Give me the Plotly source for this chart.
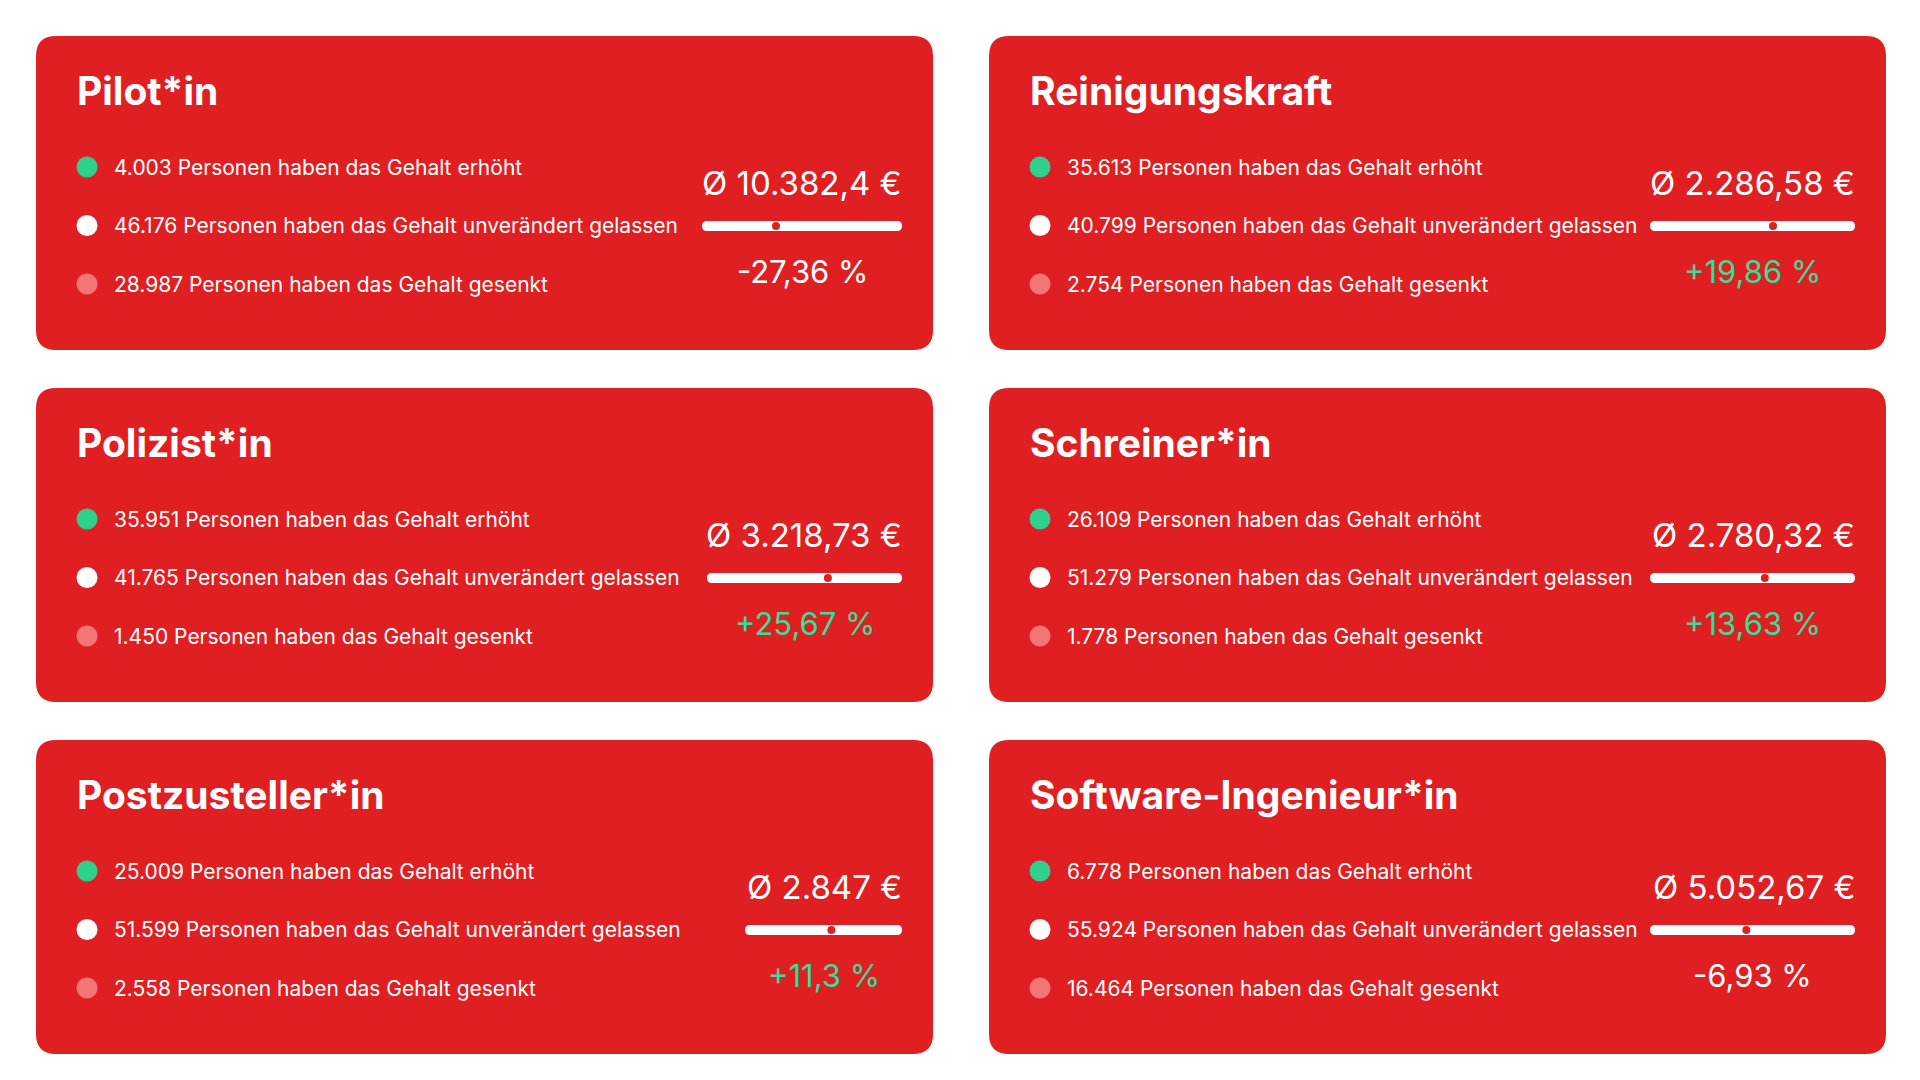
import plotly.graph_objects as go

jobs = ["Pilot*in", "Reinigungskraft", "Polizist*in", "Schreiner*in", "Postzusteller*in", "Software-Ingenieur*in"]
raised = ["4.003", "35.613", "35.951", "26.109", "25.009", "6.778"]
unchanged = ["46.176", "40.799", "41.765", "51.279", "51.599", "55.924"]
lowered = ["28.987", "2.754", "1.450", "1.778", "2.558", "16.464"]
avg_salary = ["10.382,4", "2.286,58", "3.218,73", "2.780,32", "2.847", "5.052,67"]
pct_change = [-27.36, 19.86, 25.67, 13.63, 11.3, -6.93]
pct_label = ["-27,36 %", "+19,86 %", "+25,67 %", "+13,63 %", "+11,3 %", "-6,93 %"]
slider_pos = [0.37, 0.60, 0.62, 0.56, 0.55, 0.47]

RED = "#E01F22"
GREEN = "#2FD08C"
PINK = "#F47575"
GREENTXT = "#3DDC97"
FONT = "Inter"

W, H = 1920, 1080
card_w, card_h = 897, 314
col_x = [28, 981]
row_y = [28, 380, 732]
bar_w = [200, 205, 195, 205, 157, 205]

fig = go.Figure()
shapes, ann = [], []
dx, dy, dc = [], [], []

def rr(x0, y0, x1, y1, r):
    return (f"M{x0+r},{y0} L{x1-r},{y0} Q{x1},{y0} {x1},{y0+r} L{x1},{y1-r} Q{x1},{y1} {x1-r},{y1} "
            f"L{x0+r},{y1} Q{x0},{y1} {x0},{y1-r} L{x0},{y0+r} Q{x0},{y0} {x0+r},{y0} Z")

for i, job in enumerate(jobs):
    cx = col_x[i % 2]
    cy = row_y[i // 2]
    shapes.append(dict(type="path", path=rr(cx, cy, cx + card_w, cy + card_h, 20),
                       xref="x", yref="y", fillcolor=RED, line=dict(width=0), layer="below"))
    ann.append(dict(x=cx + 39, y=cy + 54, text=f"<b>{job}</b>", showarrow=False, xanchor="left",
                    yanchor="middle", font=dict(family=FONT, size=39, color="white")))
    rows = [(raised[i], "erhöht", GREEN), (unchanged[i], "unverändert gelassen", "white"),
            (lowered[i], "gesenkt", PINK)]
    for k, (n, verb, col) in enumerate(rows):
        yy = cy + 131 + 58.5 * k
        dx.append(cx + 51); dy.append(yy); dc.append(col)
        ann.append(dict(x=cx + 76, y=yy, text=f"{n} Personen haben das Gehalt {verb}", showarrow=False,
                        xanchor="left", yanchor="middle",
                        font=dict(family=FONT, size=21, color="white")))
    right = cx + card_w - 31
    left = right - bar_w[i]
    ann.append(dict(x=right + 2, y=cy + 147, text=f"Ø {avg_salary[i]} €", showarrow=False,
                    xanchor="right", yanchor="middle", font=dict(family=FONT, size=33, color="white")))
    by = cy + 190
    r = 5
    shapes.append(dict(type="path", path=rr(left, by - r, right, by + r, r), xref="x", yref="y",
                       fillcolor="white", line=dict(width=0), layer="below"))
    fig.add_trace(go.Scatter(x=[left + slider_pos[i] * (right - left)], y=[by], mode="markers",
                             marker=dict(size=8, color=RED), hoverinfo="skip", showlegend=False))
    ann.append(dict(x=(left + right) / 2, y=cy + 235, text=pct_label[i], showarrow=False,
                    xanchor="center", yanchor="middle",
                    font=dict(family=FONT, size=31, color=GREENTXT if pct_change[i] > 0 else "white")))

fig.add_trace(go.Scatter(x=dx, y=dy, mode="markers", marker=dict(size=21, color=dc, line=dict(width=0)),
                         hoverinfo="skip", showlegend=False))

fig.update_layout(width=W, height=H, margin=dict(l=0, r=0, t=0, b=0),
                  paper_bgcolor="white", plot_bgcolor="white", shapes=shapes, annotations=ann,
                  xaxis=dict(range=[0, W], visible=False, fixedrange=True),
                  yaxis=dict(range=[H, 0], visible=False, fixedrange=True))
fig.write_html("out.html")
